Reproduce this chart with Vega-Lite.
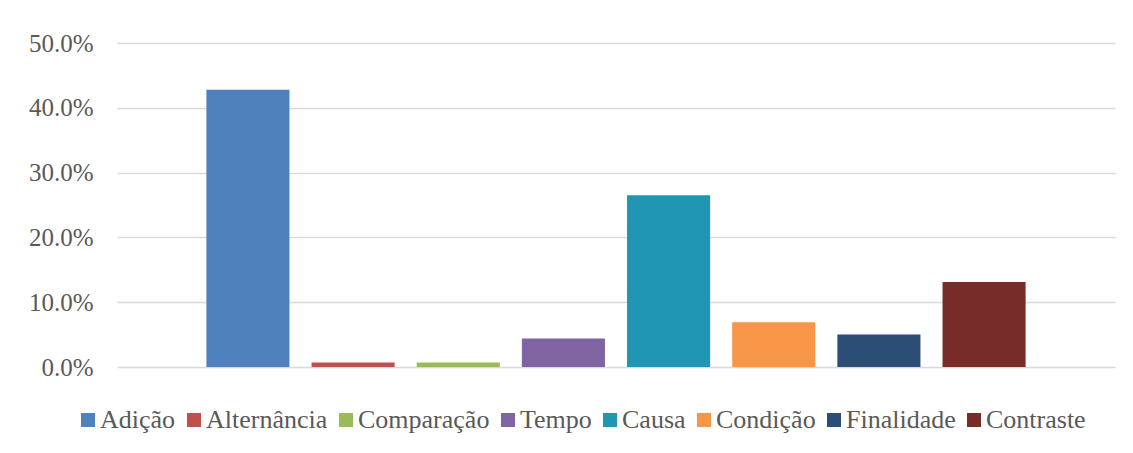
{
  "$schema": "https://vega.github.io/schema/vega-lite/v6.json",
  "autosize": {"type": "none"},
  "width": 998,
  "height": 324,
  "padding": {"left": 117, "top": 43, "right": 18, "bottom": 86},
  "background": "white",
  "data": {
    "values": [
      {"categoria": "Adição", "valor": 0.428},
      {"categoria": "Alternância", "valor": 0.007},
      {"categoria": "Comparação", "valor": 0.007},
      {"categoria": "Tempo", "valor": 0.044},
      {"categoria": "Causa", "valor": 0.265},
      {"categoria": "Condição", "valor": 0.069},
      {"categoria": "Finalidade", "valor": 0.050},
      {"categoria": "Contraste", "valor": 0.131}
    ]
  },
  "mark": {"type": "bar"},
  "encoding": {
    "x": {
      "field": "categoria",
      "type": "nominal",
      "sort": ["Adição", "Alternância", "Comparação", "Tempo", "Causa", "Condição", "Finalidade", "Contraste"],
      "scale": {"paddingInner": 0.21, "paddingOuter": 0.85},
      "axis": null
    },
    "y": {
      "field": "valor",
      "type": "quantitative",
      "scale": {"domain": [0, 0.5], "nice": false},
      "axis": {
        "title": null,
        "format": ".1%",
        "values": [0, 0.1, 0.2, 0.3, 0.4, 0.5],
        "domain": false,
        "ticks": false,
        "labelPadding": 24,
        "labelFont": "Liberation Serif",
        "labelFontSize": 25,
        "labelColor": "#595959",
        "gridColor": "#D9D9D9",
        "gridWidth": 1.5
      }
    },
    "color": {
      "field": "categoria",
      "type": "nominal",
      "scale": {
        "domain": ["Adição", "Alternância", "Comparação", "Tempo", "Causa", "Condição", "Finalidade", "Contraste"],
        "range": ["#4F81BD", "#C0504D", "#9BBB59", "#8064A2", "#2096B4", "#F79646", "#2C4D75", "#772C2A"]
      },
      "legend": {
        "title": null,
        "orient": "none",
        "direction": "horizontal",
        "legendX": -42,
        "legendY": 364,
        "symbolType": "square",
        "symbolSize": 196,
        "symbolStrokeWidth": 0,
        "labelFont": "Liberation Serif",
        "labelFontSize": 26,
        "labelColor": "#595959",
        "labelOffset": -1,
        "columnPadding": 5
      }
    }
  },
  "config": {"view": {"stroke": null}}
}
